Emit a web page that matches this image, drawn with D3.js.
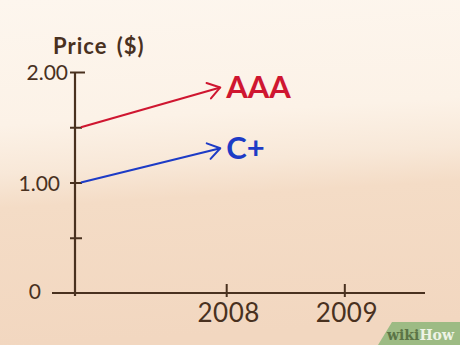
<!DOCTYPE html>
<html>
<head>
<meta charset="utf-8">
<script src="https://cdn.jsdelivr.net/npm/d3@7"></script>
<style>
  html, body { margin: 0; padding: 0; }
  svg { display: block; }
</style>
</head>
<body>
<svg id="chart"></svg>
<script>
// chart data
var years = [2006.77, 2007.95];
var aaaPrices = [1.5, 1.86];
var cPlusPrices = [1.0, 1.31];
var seriesNames = ["AAA", "C+"];
var priceTicks = [0, 0.5, 1, 1.5, 2];
var priceLabels = ["0", "", "1.00", "", "2.00"];
var yearTicks = [2008, 2009];

var W = 460, H = 345;
var ink = "#49311f";

var svg = d3.select("#chart").attr("width", W).attr("height", H);

// background
var defs = svg.append("defs");
var grad = defs.append("linearGradient").attr("id", "bg")
    .attr("x1", 0).attr("y1", 0).attr("x2", 0.08).attr("y2", 1);
[[0, "#fdf6ee"], [0.36, "#fcf2e7"], [0.5, "#f8e8d8"], [0.6, "#f4dcc6"], [1, "#f2d7c0"]].forEach(function (s) {
    grad.append("stop").attr("offset", s[0]).attr("stop-color", s[1]);
});
svg.append("rect").attr("width", W).attr("height", H).attr("fill", "url(#bg)");

var x = d3.scaleLinear().domain([2006.72, 2009.7]).range([75, 427]);
var y = d3.scaleLinear().domain([0, 2]).range([293, 72]);

// x axis
var xAxis = svg.append("g").attr("transform", "translate(0," + y(0) + ")")
    .call(d3.axisBottom(x).tickValues(yearTicks).tickFormat(d3.format("d")));
xAxis.select(".domain").remove();
xAxis.append("line").attr("x1", 52).attr("x2", 425)
    .attr("stroke", ink).attr("stroke-width", 2.2);
xAxis.selectAll(".tick line").attr("y1", 4).attr("y2", -9)
    .attr("stroke", ink).attr("stroke-width", 2);
xAxis.selectAll(".tick text").attr("y", 11).attr("dx", 2)
    .attr("fill", ink).style("font", "26px Lato, 'DejaVu Sans', sans-serif")
    .style("letter-spacing", "0.5px");

// y axis
var labelShift = { "0": -24, "1.00": -5, "2.00": 3 };
var yAxis = svg.append("g").attr("transform", "translate(" + x(2006.72) + ",0)")
    .call(d3.axisLeft(y).tickValues(priceTicks).tickFormat(function (d, i) { return priceLabels[i]; }));
yAxis.select(".domain").remove();
yAxis.append("line").attr("y1", y(2)).attr("y2", y(0) + 3)
    .attr("stroke", ink).attr("stroke-width", 2.2);
yAxis.selectAll(".tick line").attr("x1", -5).attr("x2", function (d) { return d == 2 ? 10 : 7; })
    .attr("stroke", ink).attr("stroke-width", 2)
    .style("display", function (d) { return d == 0 ? "none" : null; });
yAxis.selectAll(".tick text")
    .attr("x", function (d, i) { return -10 + (labelShift[priceLabels[i]] || 0); })
    .attr("dy", function (d) { return d == 0 ? "0.28em" : "0.38em"; })
    .attr("fill", ink).style("font", "21px Lato, 'DejaVu Sans', sans-serif");

svg.append("text").attr("x", 53).attr("y", 54).attr("fill", ink)
    .style("font", "bold 22px Lato, 'DejaVu Sans', sans-serif")
    .style("letter-spacing", "1px").style("word-spacing", "3px")
    .text("Price ($)");

// arrows
var colors = ["#cf1630", "#1d3bc6"];
colors.forEach(function (c, i) {
    defs.append("marker").attr("id", "arr" + i)
        .attr("viewBox", "-14 -10 16 20").attr("markerWidth", 16).attr("markerHeight", 20)
        .attr("markerUnits", "userSpaceOnUse").attr("refX", 0).attr("refY", 0)
        .attr("orient", "auto")
        .append("path").attr("d", "M-12,-8 L0,0 L-12,8")
        .attr("fill", "none").attr("stroke", c).attr("stroke-width", 2)
        .attr("stroke-linejoin", "round").attr("stroke-linecap", "round");
});

var series = [aaaPrices, cPlusPrices];
var line = d3.line().x(function (d, i) { return x(years[i]); }).y(function (d) { return y(d); });
series.forEach(function (vals, i) {
    svg.append("path").datum(vals).attr("d", line)
        .attr("fill", "none").attr("stroke", colors[i]).attr("stroke-width", 2.2)
        .attr("marker-end", "url(#arr" + i + ")");
    svg.append("text")
        .attr("x", x(years[1]) + 6)
        .attr("y", y(vals[1]) + 11)
        .attr("fill", colors[i])
        .style("font", "bold 31px Lato, 'DejaVu Sans', sans-serif")
        .text(seriesNames[i]);
});

// watermark
var wm = svg.append("g");
wm.append("path").attr("d", "M378,345 L392,322 L460,322 L460,345 Z").attr("fill", "#9dbb84");
var wt = wm.append("text").attr("x", 387).attr("y", 340)
    .style("font", "bold 14px 'DejaVu Serif', 'Liberation Serif', serif");
wt.append("tspan").attr("fill", "#5b7446").text("wiki");
wt.append("tspan").attr("fill", "#eef3e6").text("How");
</script>
</body>
</html>
